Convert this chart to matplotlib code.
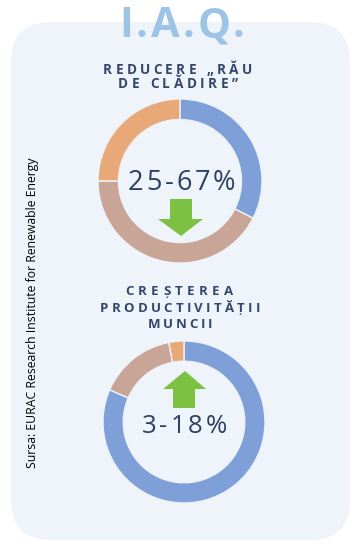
import matplotlib
matplotlib.use("Agg")
import matplotlib.pyplot as plt
from matplotlib.patches import FancyBboxPatch, Polygon

plt.rcParams['font.family'] = ['Open Sans', 'DejaVu Sans']

# data
title = "I.A.Q."
values1 = [32.5, 42.5, 25]          # REDUCERE "RAU DE CLADIRE"
values2 = [81.5, 15.5, 3]           # CRESTEREA PRODUCTIVITATII MUNCII
colors = ["#7f9fd8", "#c8a596", "#e9a877"]
head1 = ["REDUCERE „RĂU", "DE CLĂDIRE\u201d"]
head2 = ["CREȘTEREA", "PRODUCTIVITĂȚII", "MUNCII"]
big1 = "25-67%"
big2 = "3-18%"
source = "Sursa: EURAC Research Institute for Renewable Energy"

W, H = 360, 550
fig = plt.figure(figsize=(3.6, 5.5), dpi=100)
fig.patch.set_facecolor("white")

bg = fig.add_axes([0, 0, 1, 1], zorder=0)
bg.set_xlim(0, W)
bg.set_ylim(H, 0)
bg.axis("off")
bg.add_patch(FancyBboxPatch((11, 22), 339, 518, boxstyle="round,pad=0,rounding_size=40",
                            fc="#eff4fa", ec="none"))


def donut(cx, cy, r, vals):
    ax = fig.add_axes([(cx - r) / W, 1 - (cy + r) / H, 2 * r / W, 2 * r / H], zorder=1)
    ax.pie(vals, colors=colors, startangle=90, counterclock=False,
           wedgeprops=dict(width=0.25, edgecolor="#eef3fa", linewidth=1))
    ax.set_xlim(-1, 1)
    ax.set_ylim(-1, 1)
    ax.axis("off")


donut(180, 181, 82, values1)
donut(184, 422, 81, values2)

ov = fig.add_axes([0, 0, 1, 1], zorder=2)
ov.set_xlim(0, W)
ov.set_ylim(H, 0)
ov.axis("off")
ov.patch.set_alpha(0)

rend = fig.canvas.get_renderer()


def spaced(x0, x1, y, s, **kw):
    # letter spaced text stretched between x0 and x1, baseline at y
    ws = []
    for ch in s:
        if ch == " ":
            a = ov.text(0, 0, "nn", **kw)
            b = ov.text(0, 0, "n n", **kw)
            w = b.get_window_extent(rend).width - a.get_window_extent(rend).width
            a.remove(); b.remove()
        else:
            t = ov.text(0, 0, ch, **kw)
            w = t.get_window_extent(rend).width
            t.remove()
        ws.append(w)
    track = (x1 - x0 - sum(ws)) / (len(s) - 1)
    x = x0
    for ch, w in zip(s, ws):
        ov.text(x, y, ch, ha="left", va="baseline", **kw)
        x += w + track


spaced(119, 245, 37, title, fontsize=30, fontweight="bold", color="#9dc3e6")

navy = "#34476b"
spaced(103, 252, 74, head1[0], fontsize=9.8, fontweight="bold", color=navy)
spaced(118, 238, 88, head1[1], fontsize=9.8, fontweight="bold", color=navy)
spaced(128, 235, 190, big1, fontsize=19.5, color="#2e3f63")

spaced(125, 233, 295, head2[0], fontsize=9.5, fontweight="bold", color=navy)
spaced(100, 260, 312, head2[1], fontsize=9.5, fontweight="bold", color=navy)
spaced(148, 212, 328, head2[2], fontsize=9.5, fontweight="bold", color=navy)
spaced(142, 227, 433, big2, fontsize=18.5, color="#2e3f63")

green = "#7cc142"
# down arrow
ov.add_patch(Polygon([(170, 199), (192, 199), (192, 219), (203, 219), (181, 236),
                      (158, 219), (170, 219)], closed=True, fc=green, ec="none"))
# up arrow
ov.add_patch(Polygon([(185, 371), (206, 389), (195, 389), (195, 408), (173, 408),
                      (173, 389), (163, 389)], closed=True, fc=green, ec="none"))

ov.text(33, 313, source, rotation=90, ha="center", va="center", fontsize=8.8, color="black")

fig.savefig("out.png", dpi=100)
